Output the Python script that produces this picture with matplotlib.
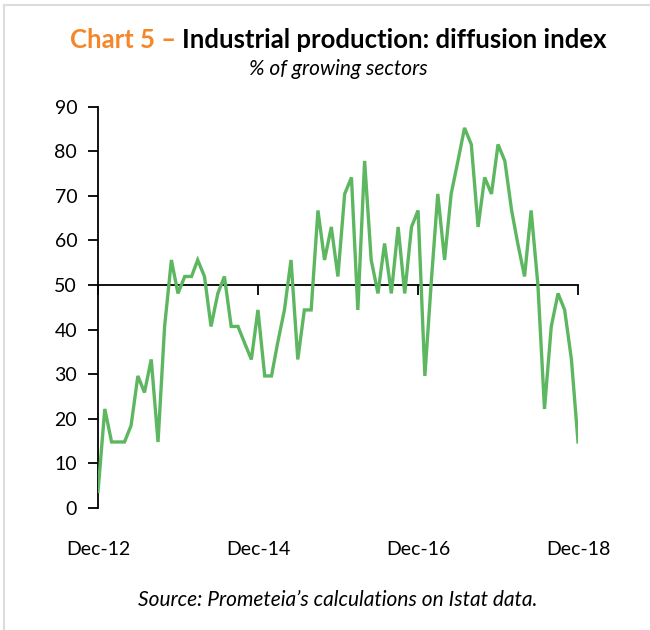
import matplotlib
matplotlib.use("Agg")
import matplotlib.pyplot as plt
from matplotlib.lines import Line2D
import pandas as pd

plt.rcParams['font.family'] = ['Lato', 'DejaVu Sans']

# Monthly dates Dec-12 .. Dec-18
months = pd.date_range("2012-12-01", "2018-12-01", freq="MS")
diffusion = [3.7, 22.2, 14.8, 14.8, 14.8, 18.5, 29.6, 25.9, 33.3, 14.8,
             40.7, 55.6, 48.1, 51.9, 51.9, 55.6, 51.9, 40.7, 48.1, 51.9,
             40.7, 40.7, 37.0, 33.3, 44.4, 29.6, 29.6, 37.0, 44.4, 55.6,
             33.3, 44.4, 44.4, 66.7, 55.6, 63.0, 51.9, 70.4, 74.1, 44.4,
             77.8, 55.6, 48.1, 59.3, 48.1, 63.0, 48.1, 63.0, 66.7, 29.6,
             51.9, 70.4, 55.6, 70.4, 77.8, 85.2, 81.5, 63.0, 74.1, 70.4,
             81.5, 77.8, 66.7, 59.3, 51.9, 66.7, 50.0, 22.2, 40.7, 48.1,
             44.4, 33.3, 14.8]
tick_dates = ["2012-12-01", "2014-12-01", "2016-12-01", "2018-12-01"]
tick_labels = ["Dec-12", "Dec-14", "Dec-16", "Dec-18"]
y_ticks = [0, 10, 20, 30, 40, 50, 60, 70, 80, 90]
threshold = 50

title_orange = "Chart 5 \u2013 "
title_black = "Industrial production: diffusion index"
subtitle = "% of growing sectors"
source = "Source: Prometeia\u2019s calculations on Istat data."

fig = plt.figure(figsize=(6.5, 6.3), dpi=100)
ax = fig.add_axes([98/650, 1 - 508/630, 480/650, (508 - 106.5)/630])

ax.plot(months, diffusion, color="#5DB761", lw=2.4, solid_joinstyle="miter", zorder=3)

ax.set_xlim(months[0], months[-1])
ax.set_ylim(0, 90)
ax.set_yticks(y_ticks)
ax.tick_params(axis="y", direction="out", length=7, width=1.3, pad=8,
               labelsize=14, colors="black")

for s in ["top", "right"]:
    ax.spines[s].set_visible(False)
ax.spines["left"].set_linewidth(1.3)
ax.spines["bottom"].set_position(("data", threshold))
ax.spines["bottom"].set_linewidth(1.3)

tpos = pd.to_datetime(tick_dates)
ax.set_xticks(tpos)
ax.set_xticklabels([])
ax.tick_params(axis="x", direction="out", length=7, width=1.3)

sec = ax.secondary_xaxis(0)
sec.set_xticks(tpos)
sec.set_xticklabels(tick_labels)
sec.tick_params(axis="x", length=0, pad=24, labelsize=14)
sec.spines["bottom"].set_visible(False)

# Title with two colours
cx = 338 / 650
ty = 1 - 40 / 630
tfs = 18.5
full = fig.text(cx, ty, title_orange + title_black, ha="center", va="center",
                fontsize=tfs, fontweight="bold", alpha=0)
fig.canvas.draw()
bb = full.get_window_extent().transformed(fig.transFigure.inverted())
fig.text(bb.x0, ty, title_orange, ha="left", va="center", fontsize=tfs,
         fontweight="bold", color="#F5862A")
fig.text(bb.x1, ty, title_black, ha="right", va="center", fontsize=tfs,
         fontweight="bold", color="black")

fig.text(cx, 1 - 69 / 630, subtitle, ha="center", va="center", fontsize=15,
         style="italic")
fig.text(cx, 1 - 600 / 630, source, ha="center", va="center", fontsize=15,
         style="italic")

# light frame on top and left
fig.add_artist(Line2D([4/650, 1], [1 - 5/630, 1 - 5/630], transform=fig.transFigure,
                      color="#dcdcdc", lw=1.5))
fig.add_artist(Line2D([4/650, 4/650], [0, 1 - 5/630], transform=fig.transFigure,
                      color="#dcdcdc", lw=1.5))

fig.savefig("out.png", dpi=100)
